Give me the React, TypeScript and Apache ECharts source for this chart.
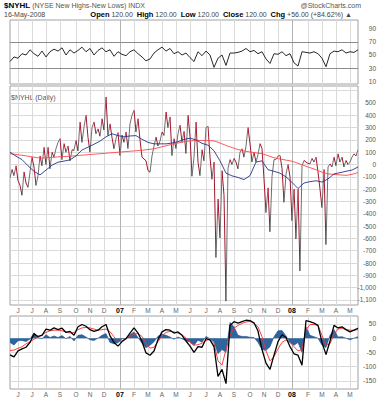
import React, { useEffect, useRef } from "react";
import * as echarts from "echarts";

// ---------- data ----------
// $NYHL daily, one point every 3 sessions, 17-May-2006 .. 16-May-2008
const nyhl = [
  -110, -40, -90, -10, -130, -170, -250, -60, -150, -185,
  -60, 60, -20, -170, -90, 70, -10, 140, 0, 140,
  -35, 100, 60, 130, 180, 210, 40, 170, 100, 150,
  30, 120, 115, 196, 110, 345, 180, 304, 400, 220,
  100, 300, 345, 250, 290, 230, 372, 280, 549, 236,
  330, 220, 128, 210, 260, 73, 240, 180, 264, 130,
  330, 400, 440, 264, 372, 200, 60, 45, 30, -49,
  -62, 70, 150, 223, 150, 190, 264, 236, 427, 300,
  386, 73, 210, 130, 250, 320, 180, 270, 90, 400,
  230, -95, 60, 345, 20, -90, 120, 30, 300, 310,
  60, -120, 20, -755, -280, -595, -50, -250, -1110, -30,
  40, 0, 50, 20, -35, 100, 128, 60, 150, 300,
  170, 20, 100, 20, 80, 170, 130, -117, -390, -190,
  -546, -100, 40, 40, 70, 73, -30, -307, -80, 0,
  -100, -456, -200, -605, -200, -864, -10, 33, 20, 10,
  5, 50, 20, 60, -60, -200, -350, -40, -650, -20,
  5, -20, 60, -10, 87, 20, 60, -20, 33, 0,
  20, 60, 87, 70, 120,
];
// 50-day MA (blue), every 3rd point
const ma50 = [
  100, 68, 40, -10, -55, -84, -45, -5, 19, 28,
  38, 70, 118, 141, 165, 190, 225, 250, 235, 225,
  232, 235, 205, 180, 168, 168, 168, 175, 185, 204,
  214, 200, 172, 157, 112, 30, -70, -92, -105, -122,
  -90, 20, 30, -42, -55, -70, -100, -145, -195, -150,
  -139, -132, -142, -117, -76, -66, -55, -45, -20,
];
// 200-day MA (red), every 3rd point
const ma200 = [
  88, 82, 75, 68, 60, 52, 55, 58, 62, 65,
  68, 72, 76, 80, 84, 88, 92, 96, 100, 104,
  108, 112, 116, 122, 128, 140, 152, 165, 175, 185,
  192, 195, 196, 195, 192, 175, 155, 138, 122, 110,
  102, 95, 88, 72, 55, 45, 36, 27, 10, -8,
  -25, -42, -62, -76, -80, -84, -88, -80, -65,
];
// RSI (top panel), every 2nd point
const rsi = [
  40, 47, 45, 52, 50, 58, 52, 48, 56, 47,
  55, 59, 56, 61, 50, 58, 53, 57, 62, 55,
  60, 50, 57, 61, 55, 58, 48, 55, 51, 49,
  55, 58, 52, 47, 41, 44, 53, 58, 62, 56,
  60, 52, 55, 50, 53, 46, 40, 55, 49, 56,
  50, 31, 45, 50, 34, 53, 53, 54, 56, 60,
  55, 57, 52, 55, 44, 37, 52, 51, 55, 49,
  52, 38, 33, 55, 54, 53, 55, 52, 45, 32,
  52, 56, 55, 58, 53, 55, 54, 58,
];
// MACD line, signal, histogram (bottom panel), every 2nd point
const macd = [
  -59, -66, -45, -38, -32, -15, 15, 6, 10, 32,
  28, 36, 30, 35, 20, 24, 10, 40, 48, 42,
  30, 24, 28, 40, 48, 8, -15, -28, -12, -2,
  18, 36, 18, -12, -52, -60, -45, -5, 22, 30,
  28, 18, 22, 10, -10, -28, -50, -30, -32, -2,
  -6, -30, -135, -110, -160, 45, 58, 53, 58, 63,
  62, 54, 25, -40, -88, -110, -60, -12, 12, 2,
  -30, -55, -60, -95, 62, 58, 53, 45, -15, -58,
  -10, 45, 36, 40, 30, 22, 28, 35,
];
const signal = [
  -44, -42, -36, -30, -20, -12, -4, 4, 12, 20,
  26, 28, 28, 26, 22, 18, 20, 30, 36, 38,
  36, 32, 28, 30, 32, 23, 5, -12, -10, 0,
  6, 14, 16, 6, -18, -35, -32, -12, 8, 20,
  24, 22, 18, 12, 0, -15, -25, -23, -18, -8,
  -4, -18, -80, -95, -40, 10, 35, 45, 52, 57,
  59, 52, 40, 5, -45, -80, -65, -38, -15, -6,
  -15, -30, -45, -40, 30, 48, 48, 45, 10, -25,
  -20, 15, 32, 35, 30, 28, 28, 30,
];
const hist = [
  -15, -24, -9, -8, -12, -3, 19, 2, -2, 12,
  2, 8, 2, 9, -2, 6, -10, 10, 12, 4,
  -6, -8, 0, 10, 16, -15, -20, -16, -2, -2,
  12, 22, 2, -18, -34, -25, -13, 7, 14, 10,
  4, -4, 4, -2, -10, -13, -25, -7, -14, 6,
  -2, -12, -55, -40, -50, 55, 40, 10, 6, 6,
  3, 2, -15, -40, -43, -30, 5, 26, 27, 8,
  -15, -25, -15, -50, 40, 10, 5, 0, -25, -33,
  10, 30, 4, 5, 0, -6, 0, 5,
];

const rsiTicks = [10, 30, 50, 70, 90];
const rsiBands = [70, 30];
const mainTicks = [-1100, -1000, -900, -800, -700, -600, -500, -400, -300, -200, -100, 0, 100, 200, 300, 400, 500];
const mainGridVals = [...mainTicks, 600];
const macdTicks = [-150, -100, -50, 0, 50];
const MONTH_LETTERS = ["J", "F", "M", "A", "M", "J", "J", "A", "S", "O", "N", "D"];

// ---------- categories: every 3rd weekday ----------
const N = nyhl.length;
const dates: string[] = [];
{
  const d = new Date(Date.UTC(2006, 4, 17));
  let w = 0;
  while (dates.length < N) {
    const day = d.getUTCDay();
    if (day !== 0 && day !== 6) {
      if (w % 3 === 0) dates.push(d.toISOString().slice(0, 10));
      w++;
    }
    d.setUTCDate(d.getUTCDate() + 1);
  }
}
const labelAt = new Map<number, string>();
const yearIdx: number[] = [];
for (let i = 1; i < N; i++) {
  const a = new Date(dates[i - 1] + "T00:00:00Z");
  const b = new Date(dates[i] + "T00:00:00Z");
  if (a.getUTCMonth() !== b.getUTCMonth()) {
    const ms = Date.UTC(b.getUTCFullYear(), b.getUTCMonth(), 1);
    const pick = b.getTime() - ms <= ms - a.getTime() ? i : i - 1;
    const m = b.getUTCMonth();
    labelAt.set(pick, m === 0 ? "{y|" + String(b.getUTCFullYear()).slice(2) + "}" : MONTH_LETTERS[m]);
    if (m === 0) yearIdx.push(pick);
  }
}
const monthIdx = Array.from(labelAt.keys()).filter((i) => !yearIdx.includes(i));

const expand = (arr: number[], step: number) =>
  Array.from({ length: N }, (_, i) => (i % step === 0 && arr[i / step] !== undefined ? arr[i / step] : null));

const FONT = '"Liberation Sans", Arial, sans-serif';
const RED = "#a3142c";
const GRAY = "#6e6e6e";
const GRID_LINE = "#dadada";
const BORDER = "#a0a0a0";

function buildOption(): any {
  const left = 10;
  const width = 348;
  const grids = [
    { left, width, top: 20, height: 64 },
    { left, width, top: 86, height: 219 },
    { left, width, top: 316, height: 73 },
  ].map((g) => ({ ...g, show: true, borderColor: BORDER, borderWidth: 1 }));

  const xAxis = [0, 1, 2].map((gi) => ({
    type: "category",
    gridIndex: gi,
    data: dates,
    boundaryGap: false,
    axisLine: { show: false },
    axisTick: { show: false },
    axisLabel: {
      show: gi !== 0,
      interval: (idx: number) => labelAt.has(idx),
      formatter: (_v: string, idx: number) => labelAt.get(idx) || "",
      color: "#666",
      fontSize: 6.5,
      fontFamily: FONT,
      margin: 2,
      rich: { y: { fontWeight: "bold", color: "#000", fontSize: 7, fontFamily: FONT } },
    },
    splitLine: { show: false },
  }));

  const yLabel = (vals: number[]) => ({
    customValues: vals,
    align: "right",
    margin: 18,
    color: "#555",
    fontSize: 6.5,
    fontFamily: FONT,
  });

  const yAxis = [
    {
      type: "value",
      gridIndex: 0,
      position: "right",
      min: 5.4,
      max: 103.8,
      axisLine: { show: false },
      axisTick: { show: false, customValues: rsiTicks },
      axisLabel: yLabel(rsiTicks),
      splitLine: { show: false },
    },
    {
      type: "value",
      gridIndex: 1,
      position: "right",
      min: -1141,
      max: 638,
      axisLine: { show: false },
      axisTick: { show: false, customValues: mainGridVals },
      axisLabel: yLabel(mainTicks),
      splitLine: { show: true, lineStyle: { color: GRID_LINE } },
    },
    {
      type: "value",
      gridIndex: 2,
      position: "right",
      min: -179,
      max: 78,
      axisLine: { show: false },
      axisTick: { show: false, customValues: macdTicks },
      axisLabel: yLabel(macdTicks),
      splitLine: { show: true, lineStyle: { color: GRID_LINE } },
    },
  ];

  // vertical month lines (light) and year lines (darker)
  const vLines = [
    ...monthIdx.map((i) => ({ xAxis: dates[i], lineStyle: { color: GRID_LINE, type: "solid", width: 1 } })),
    ...yearIdx.map((i) => ({ xAxis: dates[i], lineStyle: { color: "#b4b4b4", type: "solid", width: 1 } })),
  ];
  const mk = (extra: any[]) => ({
    silent: true,
    symbol: ["none", "none"],
    label: { show: false },
    animation: false,
    z: 1,
    data: [...vLines, ...extra],
  });

  const pieces = nyhl.slice(1).map((v, k) =>
    k === N - 2
      ? { gte: k, lte: k + 1, color: v < nyhl[k] ? RED : GRAY }
      : { gte: k, lt: k + 1, color: v < nyhl[k] ? RED : GRAY }
  );

  const base = { type: "line", showSymbol: false, symbol: "none", connectNulls: true, silent: true };

  const series = [
    {
      ...base,
      name: "RSI",
      xAxisIndex: 0,
      yAxisIndex: 0,
      data: expand(rsi, 2),
      lineStyle: { color: "#111", width: 0.9 },
      markLine: mk(rsiBands.map((v) => ({ yAxis: v, lineStyle: { color: "#8c8c8c", type: "solid", width: 1 } }))),
    },
    {
      ...base,
      name: "$NYHL",
      xAxisIndex: 1,
      yAxisIndex: 1,
      data: nyhl,
      lineStyle: { width: 1 },
    },
    {
      ...base,
      name: "MA200",
      xAxisIndex: 1,
      yAxisIndex: 1,
      data: expand(ma200, 3),
      lineStyle: { color: "#ff4a4a", width: 0.9 },
      markLine: mk([]),
    },
    {
      ...base,
      name: "MA50",
      xAxisIndex: 1,
      yAxisIndex: 1,
      data: expand(ma50, 3),
      lineStyle: { color: "#27348b", width: 0.9 },
    },
    {
      ...base,
      name: "Hist",
      xAxisIndex: 2,
      yAxisIndex: 2,
      data: expand(hist, 2),
      lineStyle: { color: "#1d4f86", width: 0.6 },
      areaStyle: { color: "#2f659f", opacity: 1, origin: 0 },
      markLine: mk([]),
    },
    {
      ...base,
      name: "Signal",
      xAxisIndex: 2,
      yAxisIndex: 2,
      data: expand(signal, 2),
      lineStyle: { color: "#ff2b2b", width: 0.9 },
    },
    {
      ...base,
      name: "MACD",
      xAxisIndex: 2,
      yAxisIndex: 2,
      data: expand(macd, 2),
      lineStyle: { color: "#000", width: 1.3 },
    },
  ];

  const txt = (x: number, y: number, text: string, opts: any = {}) => ({
    type: "text",
    x,
    y,
    silent: true,
    style: {
      text,
      fontFamily: FONT,
      fontSize: 7,
      fill: "#444",
      verticalAlign: "middle",
      textVerticalAlign: "middle",
      ...opts,
    },
  });

  const graphic = [
    txt(4, 5, "{t|$NYHL} (NYSE New Highs-New Lows) INDX", {
      fill: "#555",
      rich: { t: { fontWeight: "bold", fontSize: 8, fill: "#000", fontFamily: FONT } },
    }),
    txt(361, 5, "@StockCharts.com", { align: "right", textAlign: "right", fill: "#555" }),
    txt(4, 14, "16-May-2008"),
    txt(
      352,
      14,
      "{b|Open} 120.00  {b|High} 120.00  {b|Low} 120.00  {b|Close} 120.00  {b|Chg} +56.00 (+84.62%) ▲",
      {
        align: "right",
        textAlign: "right",
        rich: { b: { fontWeight: "bold", fill: "#000", fontSize: 7.5, fontFamily: FONT } },
      }
    ),
    txt(11, 97, "$NYHL (Daily)", { fill: "#555" }),
  ];

  return {
    animation: false,
    backgroundColor: "#fff",
    textStyle: { fontFamily: FONT },
    grid: grids,
    xAxis,
    yAxis,
    visualMap: [{ type: "piecewise", show: false, seriesIndex: 1, dimension: 0, pieces }],
    series,
    graphic,
  };
}

export default function App() {
  const ref = useRef<HTMLDivElement>(null);
  useEffect(() => {
    if (!ref.current) return;
    const chart = echarts.init(ref.current, null, { renderer: "svg" });
    chart.setOption(buildOption());
    return () => chart.dispose();
  }, []);
  return (
    <div
      ref={ref}
      style={{ position: "absolute", left: 0, top: 0, width: 388, height: 400, background: "#fff" }}
    />
  );
}
